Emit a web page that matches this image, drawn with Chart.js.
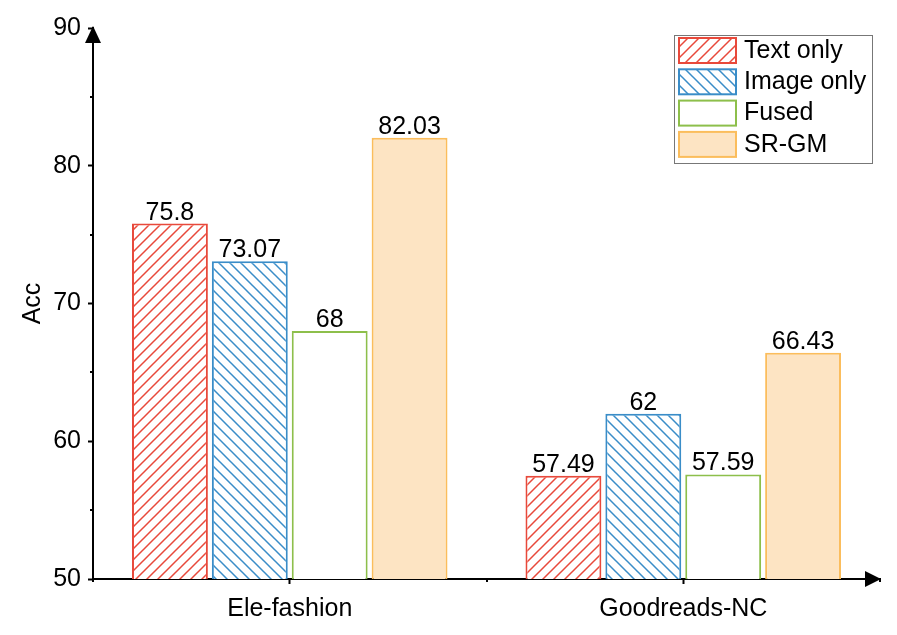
<!DOCTYPE html>
<html>
<head>
<meta charset="utf-8">
<script src="https://cdn.jsdelivr.net/npm/chart.js@4.4.1/dist/chart.umd.min.js"></script>
<style>
  html, body { margin: 0; padding: 0; background: #fff; }
</style>
</head>
<body>
<canvas id="chart" width="897" height="635"></canvas>
<script>
// data
const categories = ['Ele-fashion', 'Goodreads-NC'];
const seriesNames = ['Text only', 'Image only', 'Fused', 'SR-GM'];
const textOnly = [75.8, 57.49];
const imageOnly = [73.07, 62];
const fused = [68, 57.59];
const srgm = [82.03, 66.43];
const yTicks = [50, 60, 70, 80, 90];
const yMinorTicks = [55, 65, 75, 85];

const FONT = 'Liberation Sans, Arial, sans-serif';
const RED = '#e8493b';
const BLUE = '#3a8dc8';
const GREEN = '#8dbf4b';
const ORANGE = '#fbbd5c';
const ORANGE_FILL = '#fde4c3';

// diagonal hatch pattern ("/" when dir > 0, "\" otherwise)
function hatch(color, dir) {
  const s = 11;
  const c = document.createElement('canvas');
  c.width = s; c.height = s;
  const g = c.getContext('2d');
  g.fillStyle = '#fff';
  g.fillRect(0, 0, s, s);
  g.strokeStyle = color;
  g.lineWidth = 1.5;
  g.beginPath();
  if (dir > 0) {
    g.moveTo(-1, s + 1); g.lineTo(s + 1, -1);
    g.moveTo(-2, 2); g.lineTo(2, -2);
    g.moveTo(s - 2, s + 2); g.lineTo(s + 2, s - 2);
  } else {
    g.moveTo(-1, -1); g.lineTo(s + 1, s + 1);
    g.moveTo(-2, s - 2); g.lineTo(2, s + 2);
    g.moveTo(s - 2, -2); g.lineTo(s + 2, 2);
  }
  g.stroke();
  return g.createPattern(c, 'repeat');
}

const fills = [hatch(RED, 1), hatch(BLUE, -1), '#ffffff', ORANGE_FILL];
const borders = [RED, BLUE, GREEN, ORANGE];
const values = [textOnly, imageOnly, fused, srgm];

// value labels above bars
const valueLabels = {
  id: 'valueLabels',
  afterDatasetsDraw(chart) {
    const ctx = chart.ctx;
    ctx.save();
    ctx.font = '25px ' + FONT;
    ctx.fillStyle = '#000';
    ctx.textAlign = 'center';
    ctx.textBaseline = 'alphabetic';
    chart.data.datasets.forEach((ds, i) => {
      chart.getDatasetMeta(i).data.forEach((bar, j) => {
        ctx.fillText(String(ds.data[j]), bar.x, bar.y - 4);
      });
    });
    ctx.restore();
  }
};

// arrows on axes and minor ticks
const axisDecor = {
  id: 'axisDecor',
  afterDraw(chart) {
    const ctx = chart.ctx;
    const a = chart.chartArea;
    const x = chart.scales.x, y = chart.scales.y;
    ctx.save();
    ctx.strokeStyle = '#000';
    ctx.fillStyle = '#000';
    ctx.lineWidth = 2;
    // minor y ticks
    yMinorTicks.forEach(v => {
      const py = Math.round(y.getPixelForValue(v));
      ctx.beginPath();
      ctx.moveTo(a.left, py);
      ctx.lineTo(a.left - 3, py);
      ctx.stroke();
    });
    // minor x ticks at category boundaries
    for (let i = 0; i <= categories.length; i++) {
      const px = Math.round(x.getPixelForValue(i - 0.5));
      ctx.beginPath();
      ctx.moveTo(px, a.bottom);
      ctx.lineTo(px, a.bottom + 3);
      ctx.stroke();
    }
    // y arrow
    ctx.beginPath();
    ctx.moveTo(a.left, a.top - 2);
    ctx.lineTo(a.left - 8, a.top + 15);
    ctx.lineTo(a.left + 8, a.top + 15);
    ctx.closePath();
    ctx.fill();
    // x arrow
    ctx.beginPath();
    ctx.moveTo(a.right + 1, a.bottom);
    ctx.lineTo(a.right - 15, a.bottom - 8);
    ctx.lineTo(a.right - 15, a.bottom + 8);
    ctx.closePath();
    ctx.fill();
    ctx.restore();
  }
};

// boxed legend in the upper right
const boxLegend = {
  id: 'boxLegend',
  afterDraw(chart) {
    const ctx = chart.ctx;
    const left = 674, top = 35, right = 872, bottom = 163;
    ctx.save();
    ctx.strokeStyle = '#777';
    ctx.lineWidth = 1;
    ctx.strokeRect(left + 0.5, top + 0.5, right - left, bottom - top);
    ctx.font = '25px ' + FONT;
    ctx.textAlign = 'left';
    ctx.textBaseline = 'middle';
    chart.data.datasets.forEach((ds, i) => {
      const sy = 38 + i * 31.3;
      ctx.fillStyle = ds.backgroundColor;
      ctx.fillRect(679, sy, 57, 25);
      ctx.strokeStyle = ds.borderColor;
      ctx.lineWidth = 2;
      ctx.strokeRect(679, sy, 57, 25);
      ctx.fillStyle = '#000';
      ctx.fillText(ds.label, 744, sy + 13);
    });
    ctx.restore();
  }
};

new Chart(document.getElementById('chart'), {
  type: 'bar',
  data: {
    labels: categories,
    datasets: seriesNames.map((name, i) => ({
      label: name,
      data: values[i],
      backgroundColor: fills[i],
      borderColor: borders[i],
      borderWidth: 2,
      borderSkipped: false,
      categoryPercentage: 0.812,
      barPercentage: 0.95
    }))
  },
  options: {
    responsive: false,
    animation: false,
    devicePixelRatio: 1,
    layout: { padding: { left: 0, right: 17, top: 28, bottom: 0 } },
    plugins: {
      legend: { display: false },
      tooltip: { enabled: false }
    },
    scales: {
      x: {
        grid: { display: true, drawOnChartArea: false, offset: false, tickLength: 5, tickColor: '#000', tickWidth: 2 },
        border: { display: true, color: '#000', width: 2 },
        ticks: { color: '#000', font: { family: FONT, size: 25 }, padding: 10 },
        afterFit(scale) { scale.height = 56; }
      },
      y: {
        min: 50,
        max: 90,
        afterBuildTicks(scale) { scale.ticks = yTicks.map(v => ({ value: v })); },
        grid: { display: true, drawOnChartArea: false, tickLength: 5, tickColor: '#000', tickWidth: 2 },
        border: { display: true, color: '#000', width: 2 },
        ticks: { color: '#000', font: { family: FONT, size: 25 }, padding: 7 },
        title: { display: true, text: 'Acc', color: '#000', font: { family: FONT, size: 25 }, padding: { top: 18, bottom: 0 } },
        afterFit(scale) { scale.width = 93; }
      }
    }
  },
  plugins: [valueLabels, axisDecor, boxLegend]
});
</script>
</body>
</html>
